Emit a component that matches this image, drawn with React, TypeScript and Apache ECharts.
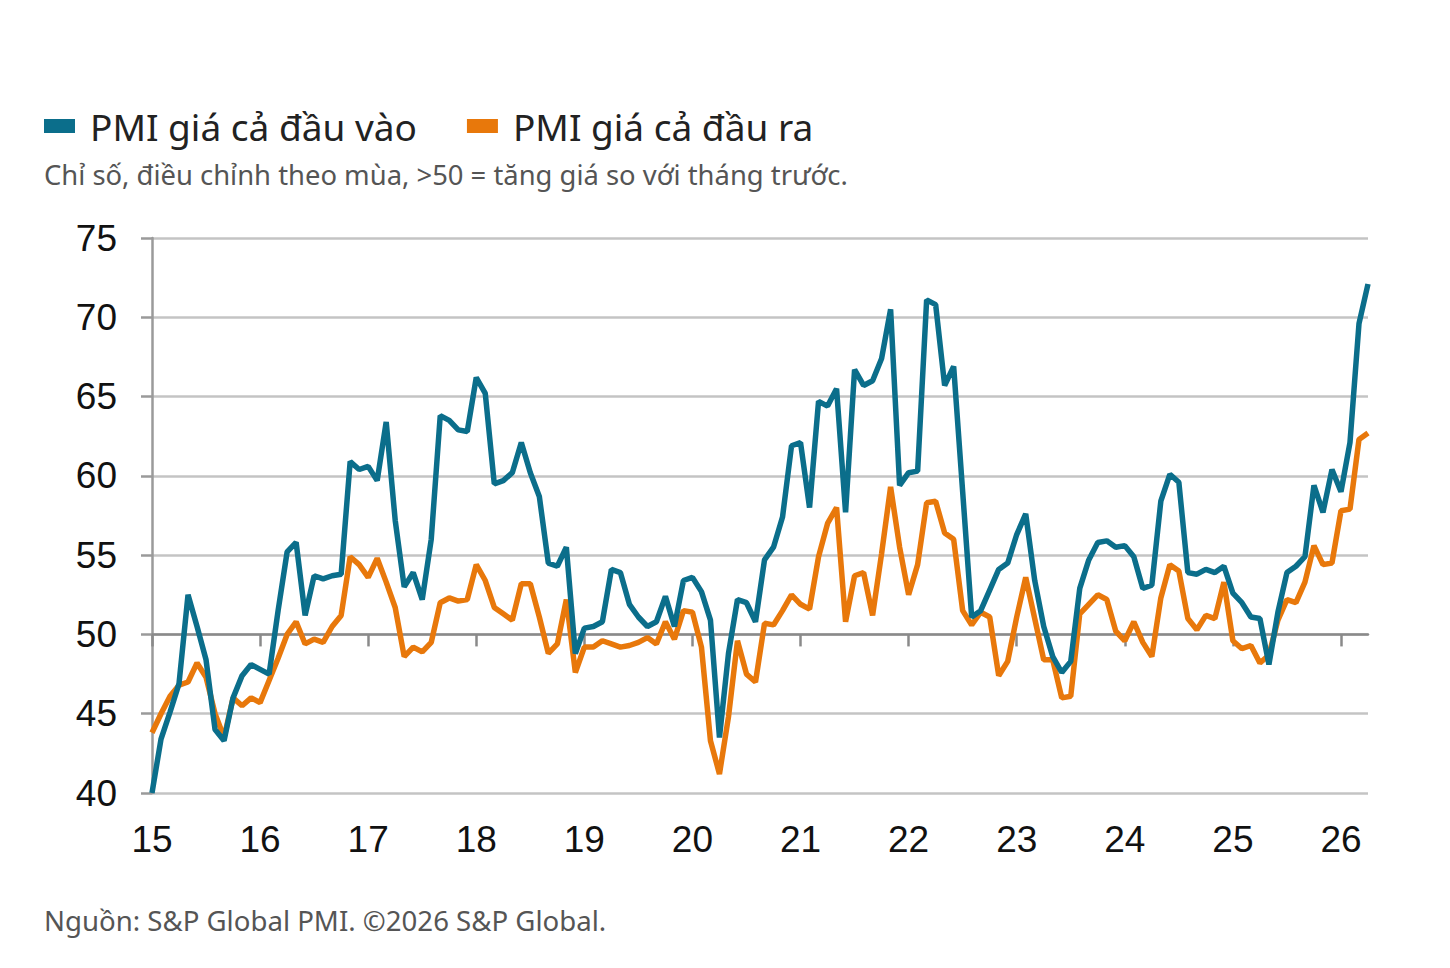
import React, { useEffect, useRef } from "react";
import * as echarts from "echarts";

const START_YEAR = 2015;
const MONTHS = 136;
const categories: string[] = Array.from({ length: MONTHS }, (_, i) => {
  const y = START_YEAR + Math.floor(i / 12);
  const m = (i % 12) + 1;
  return `${y}-${m < 10 ? "0" + m : m}`;
});

const seriesNames = ["PMI giá cả đầu vào", "PMI giá cả đầu ra"];

const inputPrices = [
  // 2015
  40.0, 43.4, 45.1, 46.9, 52.5, 50.5, 48.4, 44.0, 43.3, 46.0, 47.4, 48.1,
  // 2016
  47.8, 47.5, 51.5, 55.2, 55.8, 51.2, 53.7, 53.5, 53.7, 53.8, 60.9, 60.4,
  // 2017
  60.6, 59.7, 63.4, 57.2, 53.0, 53.9, 52.2, 56.0, 63.8, 63.5, 62.9, 62.8,
  // 2018
  66.2, 65.2, 59.5, 59.7, 60.2, 62.1, 60.2, 58.7, 54.5, 54.3, 55.5, 48.8,
  // 2019
  50.4, 50.5, 50.8, 54.1, 53.9, 51.9, 51.1, 50.5, 50.8, 52.4, 50.5, 53.4,
  // 2020
  53.6, 52.7, 50.9, 43.5, 48.8, 52.2, 52.0, 50.8, 54.7, 55.5, 57.4, 61.9,
  // 2021
  62.1, 58.0, 64.7, 64.4, 65.5, 57.7, 66.7, 65.7, 66.0, 67.4, 70.5, 59.4,
  // 2022
  60.2, 60.3, 71.1, 70.8, 65.7, 66.9, 59.0, 51.1, 51.5, 52.8, 54.1, 54.5,
  // 2023
  56.3, 57.6, 53.4, 50.5, 48.6, 47.6, 48.3, 52.9, 54.7, 55.8, 55.9, 55.5,
  // 2024
  55.6, 54.9, 52.9, 53.1, 58.4, 60.1, 59.6, 53.9, 53.8, 54.1, 53.9, 54.3,
  // 2025
  52.6, 52.0, 51.1, 51.0, 48.1, 51.4, 53.9, 54.3, 54.9, 59.4, 57.7, 60.4,
  // 2026
  59.0, 62.1, 69.6, 72.1,
];

const outputPrices = [
  // 2015
  43.8, 45.0, 46.1, 46.8, 47.0, 48.2, 47.3, 45.0, 43.5, 46.0, 45.5, 46.0,
  // 2016
  45.7, 47.1, 48.5, 50.0, 50.8, 49.4, 49.7, 49.5, 50.5, 51.2, 54.9, 54.4,
  // 2017
  53.6, 54.8, 53.3, 51.7, 48.6, 49.2, 48.9, 49.5, 52.0, 52.3, 52.1, 52.2,
  // 2018
  54.4, 53.4, 51.7, 51.3, 50.9, 53.2, 53.2, 51.1, 48.8, 49.4, 52.2, 47.6,
  // 2019
  49.2, 49.2, 49.6, 49.4, 49.2, 49.3, 49.5, 49.8, 49.4, 50.8, 49.7, 51.5,
  // 2020
  51.4, 49.2, 43.3, 41.2, 44.8, 49.6, 47.5, 47.0, 50.7, 50.6, 51.5, 52.5,
  // 2021
  51.9, 51.6, 54.9, 57.0, 58.0, 50.8, 53.7, 53.9, 51.2, 55.1, 59.3, 55.5,
  // 2022
  52.5, 54.4, 58.3, 58.4, 56.4, 56.0, 51.5, 50.6, 51.4, 51.1, 47.4, 48.3,
  // 2023
  51.1, 53.6, 51.0, 48.4, 48.4, 46.0, 46.1, 51.3, 51.9, 52.5, 52.2, 50.2,
  // 2024
  49.6, 50.8, 49.5, 48.6, 52.3, 54.4, 54.0, 51.0, 50.3, 51.2, 51.0, 53.3,
  // 2025
  49.6, 49.1, 49.3, 48.2, 48.7, 50.9, 52.2, 52.0, 53.3, 55.6, 54.4, 54.5,
  // 2026
  57.8, 57.9, 62.3, 62.7,
];

const Y_MIN = 40;
const Y_MAX = 75;
const Y_STEP = 5;
const AXIS_CROSS = 50;

const subtitle = "Chỉ số, điều chỉnh theo mùa, >50 = tăng giá so với tháng trước.";
const source = "Nguồn: S&P Global PMI. ©2026 S&P Global.";

const BLUE = "#0B6E8B";
const ORANGE = "#E8780B";

export default function App() {
  const ref = useRef<HTMLDivElement>(null);

  useEffect(() => {
    if (!ref.current) return;
    const chart = echarts.init(ref.current, undefined, { renderer: "svg" });
    const gridTop = 238;
    const gridHeight = 555;
    const crossOffset = -(gridHeight * (AXIS_CROSS - Y_MIN)) / (Y_MAX - Y_MIN);
    const textFont = "'Noto Sans', sans-serif";
    const numFont = "'Liberation Sans', Arial, sans-serif";
    const isYearStart = (i: number) => i % 12 === 0;

    chart.setOption({
      animation: false,
      backgroundColor: "#ffffff",
      title: [
        {
          text: subtitle,
          left: 40,
          top: 161,
          padding: [0, 4],
          textStyle: {
            fontFamily: textFont,
            fontSize: 27.4,
            fontWeight: "normal",
            color: "#555555",
          },
        },
        {
          text: source,
          left: 40,
          top: 906,
          padding: [0, 4],
          textStyle: {
            fontFamily: textFont,
            fontSize: 27.6,
            fontWeight: "normal",
            color: "#555555",
          },
        },
      ],
      legend: {
        left: 44,
        top: 104,
        padding: 0,
        icon: "rect",
        itemWidth: 31,
        itemHeight: 14,
        itemGap: 50,
        selectedMode: false,
        data: seriesNames,
        textStyle: {
          fontFamily: textFont,
          fontSize: 37,
          color: "#222222",
          padding: [0, 0, 0, 10],
          lineHeight: 44,
        },
      },
      grid: {
        left: 152,
        right: 82,
        top: gridTop,
        height: gridHeight,
        containLabel: false,
      },
      xAxis: [
        {
          type: "category",
          data: categories,
          boundaryGap: false,
          position: "bottom",
          axisLine: { show: false },
          axisTick: { show: false },
          axisLabel: {
            interval: (i: number) => isYearStart(i),
            formatter: (v: string) => v.slice(2, 4),
            fontFamily: numFont,
            fontSize: 37,
            color: "#111111",
            margin: 28,
          },
          splitLine: { show: false },
        },
        {
          type: "category",
          data: categories,
          boundaryGap: false,
          position: "bottom",
          offset: crossOffset,
          axisLine: { show: true, lineStyle: { color: "#8a8a8a", width: 2.5 } },
          axisTick: {
            show: true,
            interval: (i: number) => isYearStart(i),
            length: 12,
            lineStyle: { color: "#8a8a8a", width: 2.5 },
          },
          axisLabel: { show: false },
          splitLine: { show: false },
        },
      ],
      yAxis: {
        type: "value",
        min: Y_MIN,
        max: Y_MAX,
        interval: Y_STEP,
        axisLine: { show: true, lineStyle: { color: "#9a9a9a", width: 2.5 } },
        axisTick: { show: true, length: 11, lineStyle: { color: "#9a9a9a", width: 2.5 } },
        axisLabel: {
          fontFamily: numFont,
          fontSize: 37,
          color: "#111111",
          margin: 35,
        },
        splitLine: { show: true, lineStyle: { color: "#c4c4c4", width: 2.5 } },
      },
      series: [
        {
          name: seriesNames[0],
          type: "line",
          data: inputPrices,
          xAxisIndex: 0,
          symbol: "none",
          color: BLUE,
          lineStyle: { color: BLUE, width: 5.5 },
          z: 3,
        },
        {
          name: seriesNames[1],
          type: "line",
          data: outputPrices,
          xAxisIndex: 0,
          symbol: "none",
          color: ORANGE,
          lineStyle: { color: ORANGE, width: 5.5 },
          z: 2,
        },
      ],
    });

    return () => chart.dispose();
  }, []);

  return (
    <div
      ref={ref}
      style={{ position: "fixed", left: 0, top: 0, width: 1450, height: 968, background: "#fff" }}
    />
  );
}
